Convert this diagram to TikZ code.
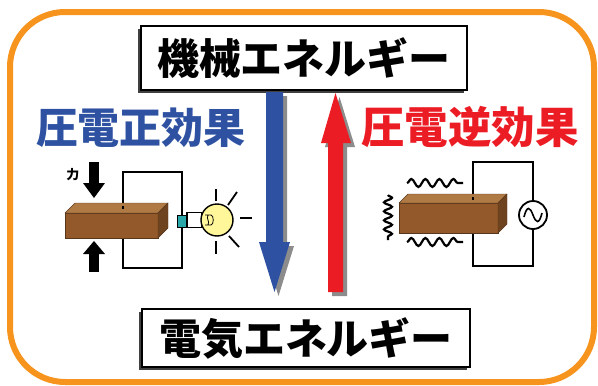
\documentclass[tikz,border=0pt]{standalone}
\usepackage{fontspec}
\newfontfamily\jp{Noto Sans CJK JP}
\usetikzlibrary{shadows,decorations.pathmorphing}
\definecolor{frameorange}{HTML}{F7941D}
\definecolor{eblue}{HTML}{2E51A2}
\definecolor{ered}{HTML}{EC1C24}
\definecolor{brickfront}{HTML}{93592A}
\definecolor{bricktop}{HTML}{B07A45}
\definecolor{brickside}{HTML}{6E4320}
\definecolor{bulbyellow}{HTML}{FFF799}
\definecolor{terminal}{HTML}{2AA7A8}
\begin{document}
\begin{tikzpicture}[x=1pt,y=-1pt,
  energybox/.style={draw=black, line width=1.4pt, fill=white,
    drop shadow={shadow xshift=-3pt, shadow yshift=-3pt, fill=black!75, opacity=1}},
  bigtext/.style={font=\jp\bfseries\fontsize{42}{42}\selectfont, inner sep=0pt},
  effecttext/.style={font=\jp\bfseries\fontsize{42}{42}\selectfont, inner sep=0pt},
  wire/.style={line width=1.6pt, black},
  brickedge/.style={draw=brickside!80!black, line width=0.4pt},
  wave/.style={line width=2.2pt, decorate,
    decoration={snake, amplitude=4pt, segment length=14pt}},
  ray/.style={line width=1.8pt, black}]
\useasboundingbox (0,0) rectangle (598,386);

% outer frame
\draw[frameorange, line width=6pt, rounded corners=55pt] (10,12) rectangle (594,382);

% energy boxes
\node[energybox, minimum width=326pt, minimum height=64pt] (mechbox) at (304,58) {};
\node[bigtext] (mech) at (304,58) {機械エネルギー};

\node[energybox, minimum width=328pt, minimum height=58pt] (elecbox) at (306,338) {};
\node[bigtext] (elec) at (306,338) {電気エネルギー};

% big arrows with shadows
\fill[black!45] (270,96) -- (287,96) -- (287,246) -- (294,246) -- (278.5,296) -- (263,246) -- (270,246) -- cycle;
\fill[eblue] (266,92) -- (283,92) -- (283,242) -- (290,242) -- (274.5,292) -- (259,242) -- (266,242) -- cycle;
\fill[black!45] (332,296) -- (347,296) -- (347,147) -- (355,147) -- (339.5,97) -- (325,147) -- (332,147) -- cycle;
\fill[ered] (328,292) -- (343,292) -- (343,143) -- (351,143) -- (335.5,93) -- (321,143) -- (328,143) -- cycle;

% effect labels
\node[effecttext, text=eblue] (direct) at (141,128) {圧電正効果};
\node[effecttext, text=ered, font=\jp\bfseries\fontsize{43.5}{43.5}\selectfont] (inverse) at (470,127) {圧電逆効果};

% ---- direct effect: squeezed crystal lights a bulb
\fill[black] (89,162) rectangle (99,184);
\fill[black] (83,183) -- (105,183) -- (94,198) -- cycle;
\fill[black] (89,253) rectangle (99,272);
\fill[black] (83,254) -- (105,254) -- (94,241) -- cycle;
\node[font=\jp\bfseries\fontsize{13}{13}\selectfont, inner sep=0pt] (force) at (73,175) {力};

\draw[wire] (123,206) -- (123,172) -- (182,172) -- (182,216);
\draw[wire] (182,226) -- (182,268) -- (123,268) -- (123,238);

\fill[brickfront, brickedge] (65,213) rectangle (158,238);
\fill[bricktop, brickedge] (65,213) -- (75,203) -- (168,203) -- (158,213) -- cycle;
\fill[brickside, brickedge] (158,213) -- (168,203) -- (168,228) -- (158,238) -- cycle;
\draw[wire] (123,206) -- (123,209);

\draw[black, line width=1pt, fill=terminal] (177,215) rectangle (187,227);
\draw[black, line width=1.4pt, fill=white] (187,212.5) rectangle (202,227.5);
\draw[black, line width=1.4pt, fill=bulbyellow] (217,220) circle (16);
\draw[black, line width=0.8pt] (205,225) -- (211,225) (205,215) -- (211,215)
  (211,215) .. controls (214,215) and (214,225) .. (211,225)
  (208,215) .. controls (206,219) and (210,221) .. (208,225);
\draw[ray] (216,189) -- (216,201);
\draw[ray] (228,205) -- (237,192);
\draw[ray] (240,218) -- (252,218);
\draw[ray] (229,236) -- (239,247);
\draw[ray] (216,241) -- (216,254);

% ---- inverse effect: AC source makes the crystal vibrate
\draw[wire] (473,199) -- (473,162) -- (533,162) -- (533,201);
\draw[wire] (533,229) -- (533,266) -- (473,266) -- (473,233);
\draw[black, line width=1.8pt, fill=white] (533,215) circle (14);
\draw[black, line width=1.6pt] (524,217) .. controls (527,205) and (530,207) .. (533,215)
  .. controls (536,223) and (539,225) .. (542,213);

\fill[brickfront, brickedge] (399,203) rectangle (498,233);
\fill[bricktop, brickedge] (399,203) -- (408,194) -- (507,194) -- (498,203) -- cycle;
\fill[brickside, brickedge] (498,203) -- (507,194) -- (507,224) -- (498,233) -- cycle;
\draw[wire] (473,197) -- (473,200);

\draw[wave] (407,183) -- (463,183);
\draw[wave] (407,242) -- (463,242);
\draw[wave, decoration={snake, amplitude=4pt, segment length=9pt}] (388,195) -- (388,240);
\end{tikzpicture}
\end{document}
